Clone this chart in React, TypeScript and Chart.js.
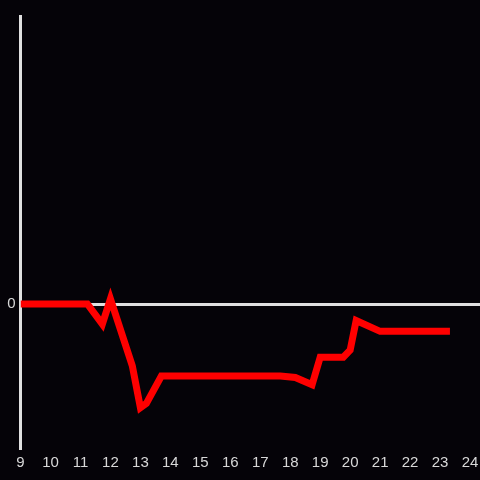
import React, { useEffect, useRef } from "react";
import { Chart, registerables } from "chart.js";

Chart.register(...registerables);

const xValues = [9.0, 11.23, 11.73, 12.0, 12.73, 13.0, 13.2, 13.7, 17.67, 18.17, 18.73, 19.0, 19.77, 20.0, 20.2, 21.0, 23.33];
const yValues = [0, 0, -0.14, 0.035, -0.43, -0.72, -0.69, -0.5, -0.5, -0.51, -0.56, -0.37, -0.37, -0.32, -0.115, -0.19, -0.19];
const xTicks = [9, 10, 11, 12, 13, 14, 15, 16, 17, 18, 19, 20, 21, 22, 23, 24];
const yTicks = [0];

export default function App() {
  const ref = useRef<HTMLCanvasElement>(null);
  useEffect(() => {
    document.body.style.margin = "0";
    document.body.style.background = "#050308";
    const points = xValues.map((x, i) => ({ x, y: yValues[i] }));
    const font = { family: "'Liberation Sans', Arial, sans-serif", size: 15 };
    const chart = new Chart(ref.current!, {
      type: "line",
      data: {
        datasets: [
          {
            data: points,
            borderColor: "#ff0000",
            borderWidth: 7,
            pointRadius: 0,
            tension: 0,
            fill: false,
          },
        ],
      },
      options: {
        animation: false,
        responsive: false,
        layout: { padding: { left: 2.2, top: 16, right: 0, bottom: 3 } },
        plugins: { legend: { display: false }, tooltip: { enabled: false } },
        scales: {
          x: {
            type: "linear",
            min: 9,
            max: 24.333,
            afterBuildTicks: (s: any) => {
              s.ticks = xTicks.map((v) => ({ value: v }));
            },
            afterFit: (s: any) => {
              s.paddingRight = 0;
              s.paddingLeft = 0;
            },
            grid: { display: false, drawTicks: false },
            border: { display: false },
            ticks: { color: "#d8d8d8", padding: 5.5, maxRotation: 0, autoSkip: false, font },
          },
          y: {
            min: -1,
            max: 2,
            afterBuildTicks: (s: any) => {
              s.ticks = yTicks.map((v) => ({ value: v }));
            },
            grid: { color: "#e0e0e0", lineWidth: 3, drawTicks: false },
            border: { display: true, color: "#e0e0e0", width: 3 },
            ticks: { color: "#d8d8d8", padding: 5, font },
          },
        },
      },
    });
    return () => chart.destroy();
  }, []);
  return (
    <div style={{ width: 480, height: 480, background: "#050308" }}>
      <canvas ref={ref} width={480} height={480} style={{ display: "block" }} />
    </div>
  );
}
